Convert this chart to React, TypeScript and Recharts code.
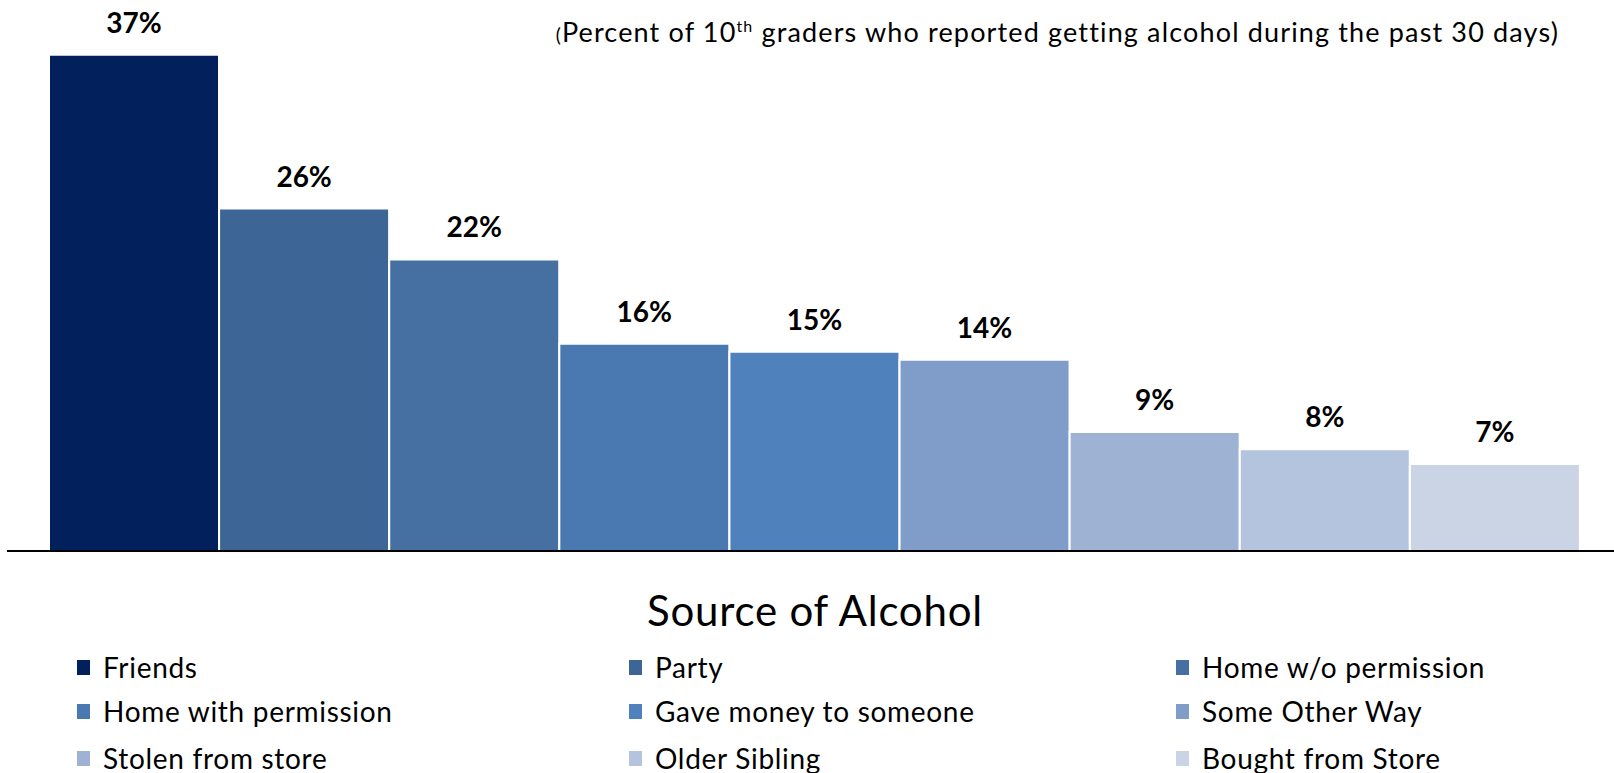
import React from 'react';
import { BarChart, Bar, Cell, XAxis, YAxis, LabelList } from 'recharts';

const categories = [
  'Friends',
  'Party',
  'Home w/o permission',
  'Home with permission',
  'Gave money to someone',
  'Some Other Way',
  'Stolen from store',
  'Older Sibling',
  'Bought from Store',
];
const percents = [37.1, 25.6, 21.8, 15.5, 14.9, 14.3, 8.9, 7.6, 6.5];
const percentLabels = ['37%', '26%', '22%', '16%', '15%', '14%', '9%', '8%', '7%'];
const colors = [
  '#02205B',
  '#3D6595',
  '#4670A2',
  '#4A78B0',
  '#4F81BD',
  '#7F9DC8',
  '#9EB2D3',
  '#B5C4DE',
  '#CAD4E5',
];

const FONT = 'Lato, "Open Sans", sans-serif';

export default function App() {
  const data = categories.map((name, i) => ({
    name,
    value: percents[i],
    label: percentLabels[i],
  }));

  return (
    <div style={{ position: 'absolute', left: 0, top: 0, width: 1614, height: 773, background: '#fff', fontFamily: FONT }}>
      <BarChart
        width={1614}
        height={773}
        data={data}
        margin={{ top: 16, right: 0, bottom: 192, left: 7 }}
        barCategoryGap={0}
      >
        <YAxis hide domain={[0, 40]} />
        <XAxis
          dataKey="name"
          tick={false}
          tickLine={false}
          axisLine={{ stroke: '#000', strokeWidth: 2 }}
          padding={{ left: 42, right: 34 }}
        />
        <Bar dataKey="value" isAnimationActive={false} stroke="#fff" strokeWidth={2}>
          {data.map((d, i) => (
            <Cell key={d.name} fill={colors[i]} />
          ))}
          <LabelList
            dataKey="label"
            position="top"
            offset={22}
            style={{ fontFamily: FONT, fontWeight: 700, fontSize: 28, fill: '#000' }}
          />
        </Bar>
      </BarChart>

      <div
        style={{
          position: 'absolute',
          right: 55,
          top: 15,
          fontSize: 27,
          letterSpacing: 1.15,
          color: '#000',
          whiteSpace: 'nowrap',
        }}
      >
        <span style={{ fontSize: 19 }}>(</span>Percent of 10<sup style={{ fontSize: 16, verticalAlign: 'super', lineHeight: 0 }}>th</sup> graders who reported getting alcohol during the past 30 days)
      </div>

      <div
        style={{
          position: 'absolute',
          left: 0,
          width: 1630,
          top: 586,
          textAlign: 'center',
          fontSize: 42,
          letterSpacing: 0.8,
          color: '#000',
          lineHeight: '48px',
        }}
      >
        Source of Alcohol
      </div>

      {categories.map((name, i) => {
        const col = i % 3;
        const row = Math.floor(i / 3);
        const colX = [77, 629, 1176][col];
        const rowY = [667, 711, 758][row];
        return (
          <div
            key={name}
            style={{
              position: 'absolute',
              left: colX,
              top: rowY - 18,
              height: 36,
              display: 'flex',
              alignItems: 'center',
              fontSize: 28,
              letterSpacing: 0.7,
              color: '#000',
              whiteSpace: 'nowrap',
            }}
          >
            <span style={{ display: 'inline-block', width: 13, height: 15, background: colors[i], marginRight: 13 }} />
            {name}
          </div>
        );
      })}
    </div>
  );
}
